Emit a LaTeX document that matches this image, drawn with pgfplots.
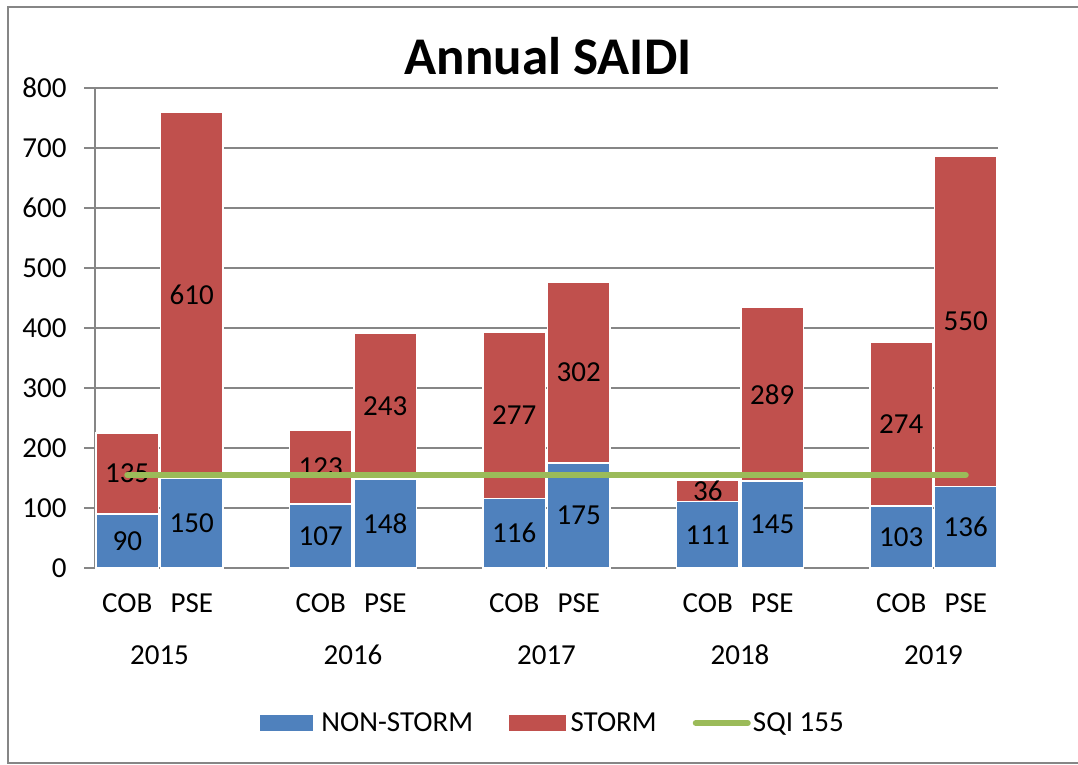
\documentclass[border=0pt]{standalone}
\usepackage{pgfplots}
\usepackage{pgfplotstable}
\pgfplotsset{compat=1.18}
\usepackage{fontspec}
\setmainfont{Carlito}
\definecolor{nsblue}{HTML}{4F81BD}
\definecolor{stred}{HTML}{C0504D}
\definecolor{sqigreen}{HTML}{9BBB59}
\definecolor{axgray}{HTML}{868686}
\pgfplotstableread{
x ns st
0 90 135
1 150 610
3 107 123
4 148 243
6 116 277
7 175 302
9 111 36
10 145 289
12 103 274
13 136 550
}\saidi
\newcommand{\bigf}{\fontsize{29}{34}\selectfont}
\begin{document}
\begin{tikzpicture}[x=1pt,y=1pt]
\path[use as bounding box] (0,0) rectangle (1078,764);
\draw[axgray, line width=2pt] (1100,757) -- (8,757) -- (8,1) -- (1100,1);
\node[font=\fontsize{53}{62}\selectfont\bfseries] at (548,708) {Annual SAIDI};
\begin{axis}[
  at={(95pt,196pt)}, anchor=south west,
  scale only axis, width=903pt, height=480pt,
  xmin=-0.5, xmax=13.5, ymin=0, ymax=800,
  ybar stacked, bar width=0.97,
  axis x line*=bottom, axis y line*=left,
  axis line style={draw=axgray, line width=2pt},
  ymajorgrids, grid style={draw=axgray, line width=2pt},
  ytick={0,100,...,800},
  xtick={0,1,3,4,6,7,9,10,12,13},
  xticklabels={COB,PSE,COB,PSE,COB,PSE,COB,PSE,COB,PSE},
  xtick style={draw=none},
  ytick style={draw=axgray, line width=2pt},
  tick align=outside, major tick length=11pt,
  /pgf/number format/assume math mode=true,
  tick label style={font=\bigf, text=black},
  xticklabel style={anchor=base, yshift=-33pt},
  yticklabel style={anchor=east, xshift=-14pt},
  extra x ticks={0.5,3.5,6.5,9.5,12.5},
  extra x tick labels={2015,2016,2017,2018,2019},
  extra x tick style={xtick style={draw=none}, xticklabel style={yshift=-52pt}},
  legend style={at={(rel axis cs:0.507,-0.323)}, anchor=center, draw=none, fill=none,
    font=\bigf, legend columns=3,
    /tikz/every even column/.append style={column sep=34pt}},
  legend cell align=left,
]
\addplot[fill=nsblue, draw=white, line width=1.5pt,
  nodes near coords, point meta=explicit,
  every node near coord/.append style={anchor=center, font=\bigf, text=black},
  legend image code/.code={\fill[nsblue] (0pt,-7pt) rectangle (52pt,7pt); \path (58pt,0pt);}]
  table[x=x, y=ns, meta=ns] {\saidi};
\addlegendentry{NON-STORM}
\addplot[fill=stred, draw=white, line width=1.5pt,
  nodes near coords, point meta=explicit,
  every node near coord/.append style={anchor=center, font=\bigf, text=black},
  legend image code/.code={\fill[stred] (0pt,-7pt) rectangle (55pt,7pt); \path (58pt,0pt);}]
  table[x=x, y=st, meta=st] {\saidi};
\addlegendentry{STORM}
\addlegendimage{legend image code/.code={\draw[sqigreen, line width=6pt, line cap=round] (3pt,0pt) -- (55pt,0pt); \path (58pt,0pt);}}
\addlegendentry{SQI 155}
\end{axis}
\begin{axis}[
  at={(95pt,196pt)}, anchor=south west,
  scale only axis, width=903pt, height=480pt,
  xmin=-0.5, xmax=13.5, ymin=0, ymax=800, hide axis]
\addplot[sqigreen, line width=6pt, line cap=round, mark=none] coordinates {(0,155) (13,155)};
\end{axis}
\end{tikzpicture}
\end{document}
